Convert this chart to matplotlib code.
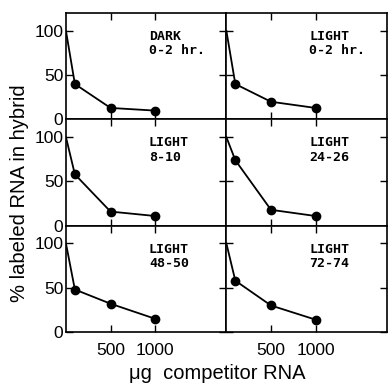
import numpy as np
import matplotlib
matplotlib.use("Agg")
from matplotlib import pyplot as plt

plt.rcParams['font.family'] = ['Liberation Sans', 'DejaVu Sans']

# competitor RNA (ug) and % labeled RNA in hybrid
competitor = [0, 100, 500, 1000]
dark_0_2 = [100, 40, 13, 10]
light_0_2 = [100, 40, 20, 13]
light_8_10 = [100, 58, 16, 11]
light_24_26 = [100, 74, 18, 11]
light_48_50 = [100, 48, 32, 15]
light_72_74 = [100, 58, 30, 14]

panels = [
    ("DARK\n0-2 hr.", dark_0_2),
    ("LIGHT\n0-2 hr.", light_0_2),
    ("LIGHT\n8-10", light_8_10),
    ("LIGHT\n24-26", light_24_26),
    ("LIGHT\n48-50", light_48_50),
    ("LIGHT\n72-74", light_72_74),
]
xticks = [500, 1000]
yticks = [0, 50, 100]

fig, axes = plt.subplots(3, 2, figsize=(3.88, 3.87), dpi=100, sharex=True, sharey=True)
fig.subplots_adjust(left=0.170, right=0.997, top=0.966, bottom=0.142, wspace=0, hspace=0)

for ax, (label, vals) in zip(axes.flat, panels):
    ax.plot(competitor, vals, color='black', linewidth=1.3)
    ax.plot(competitor[1:], vals[1:], 'o', color='black', markersize=6)
    ax.text(930, 101, label, ha='left', va='top', fontsize=9.5, fontweight='bold',
            family='DejaVu Sans Mono', linespacing=1.15)
    ax.set_xlim(0, 1800)
    ax.set_ylim(0, 120)
    ax.set_xticks(xticks)
    ax.set_yticks(yticks)
    ax.tick_params(direction='in', top=True, right=True, length=5, width=1.0,
                   labelsize=12.5, pad=2)
    ax.tick_params(axis='x', pad=8)
    for s in ax.spines.values():
        s.set_linewidth(1.2)

fig.text(0.05, 0.50, "% labeled RNA in hybrid", rotation=90, ha='center', va='center', fontsize=14.5)
fig.text(0.56, 0.035, "\u03bcg  competitor RNA", ha='center', va='center', fontsize=14.5)

plt.savefig("out.png", dpi=100)
